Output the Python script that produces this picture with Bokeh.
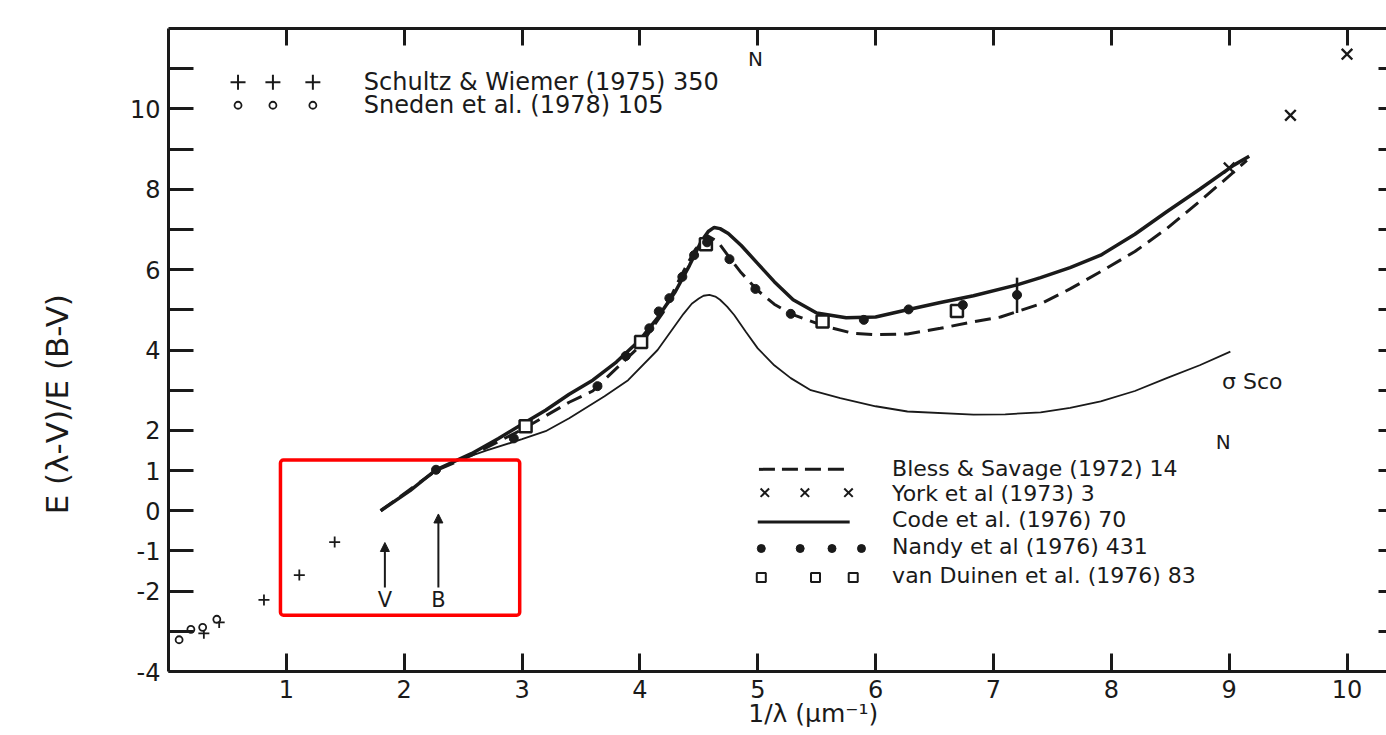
from bokeh.plotting import figure
from bokeh.models import (LinearAxis, FixedTicker, Label, Arrow, NormalHead,
                          BoxAnnotation, ColumnDataSource, Range1d)
from bokeh.embed import file_html
from bokeh.resources import INLINE
from bokeh.core.properties import value

# ---------------- data ----------------
# Code et al. (1976) mean curve (heavy solid)
code_x = [1.80, 2.05, 2.27, 2.57, 2.80, 3.00, 3.20, 3.40, 3.60, 3.80, 4.00, 4.15, 4.30, 4.42,
          4.52, 4.58, 4.63, 4.68, 4.75, 4.86, 5.00, 5.14, 5.30, 5.50, 5.75, 6.00, 6.27, 6.55,
          6.83, 7.20, 7.40, 7.65, 7.91, 8.20, 8.47, 8.75, 9.04, 9.17]
code_y = [0.00, 0.50, 1.02, 1.42, 1.80, 2.15, 2.50, 2.90, 3.25, 3.70, 4.25, 4.80, 5.45, 6.10,
          6.70, 6.95, 7.05, 7.02, 6.90, 6.60, 6.15, 5.70, 5.25, 4.92, 4.80, 4.82, 5.00, 5.18,
          5.35, 5.62, 5.80, 6.05, 6.36, 6.88, 7.44, 8.00, 8.60, 8.82]
# Bless & Savage (1972) (dashed)
bs_x = [1.80, 2.27, 2.57, 3.00, 3.40, 3.60, 4.00, 4.20, 4.35, 4.47, 4.57, 4.66, 4.76, 4.86,
        5.00, 5.14, 5.28, 5.56, 5.80, 6.00, 6.27, 6.55, 6.83, 7.06, 7.40, 7.65, 7.91, 8.20,
        8.47, 8.75, 9.04, 9.15]
bs_y = [0.00, 1.00, 1.38, 2.02, 2.70, 2.98, 4.10, 4.95, 5.85, 6.50, 6.85, 6.70, 6.30, 5.92,
        5.48, 5.14, 4.90, 4.60, 4.42, 4.38, 4.40, 4.54, 4.70, 4.82, 5.15, 5.52, 5.95, 6.45,
        7.02, 7.70, 8.43, 8.72]
# sigma Sco (thin solid)
sco_x = [2.40, 2.70, 3.00, 3.20, 3.40, 3.70, 3.90, 4.15, 4.37, 4.44, 4.50, 4.54, 4.59, 4.64,
         4.68, 4.74, 4.80, 4.90, 5.00, 5.14, 5.28, 5.45, 5.70, 6.00, 6.27, 6.83, 7.10, 7.40,
         7.65, 7.91, 8.20, 8.47, 8.75, 9.01]
sco_y = [1.20, 1.50, 1.78, 1.98, 2.30, 2.85, 3.25, 4.00, 4.90, 5.15, 5.28, 5.35, 5.37, 5.33,
         5.25, 5.08, 4.87, 4.45, 4.04, 3.62, 3.30, 3.00, 2.80, 2.60, 2.47, 2.39, 2.40, 2.45,
         2.56, 2.72, 2.98, 3.30, 3.62, 3.96]
# Nandy et al. (1976) dots
nandy_x = [2.27, 2.93, 3.64, 3.88, 4.08, 4.16, 4.25, 4.36, 4.46, 4.57, 4.76, 4.98, 5.28, 5.90,
           6.28, 6.74, 7.20]
nandy_y = [1.02, 1.80, 3.10, 3.85, 4.54, 4.96, 5.29, 5.82, 6.36, 6.68, 6.26, 5.52, 4.90, 4.75,
           5.01, 5.12, 5.37]
err_x = [7.20]
err_lo = [4.92]
err_hi = [5.80]
# van Duinen et al. (1976) squares
vd_x = [3.03, 4.01, 4.56, 5.55, 6.69]
vd_y = [2.10, 4.20, 6.63, 4.71, 4.97]
# York et al. (1973) crosses
york_x = [9.00, 9.52, 10.00]
york_y = [8.53, 9.84, 11.36]
# Schultz & Wiemer (1975) pluses
sw_x = [0.30, 0.43, 0.81, 1.11, 1.41]
sw_y = [-3.05, -2.78, -2.22, -1.60, -0.78]
# Sneden et al. (1978) circles
sn_x = [0.09, 0.19, 0.29, 0.41]
sn_y = [-3.21, -2.95, -2.90, -2.70]
# V and B band arrows
band_names = ["V", "B"]
band_x = [1.836, 2.29]
band_bottom = [-1.91, -1.91]
band_top = [-0.79, -0.08]
# highlight box (left, right, bottom, top)
highlight_box = [0.95, 2.98, -2.60, 1.26]

x_ticks = [1, 2, 3, 4, 5, 6, 7, 8, 9, 10]
y_ticks = list(range(-4, 12))
y_tick_labels = {10: "10", 8: "8", 6: "6", 4: "4", 2: "2", 1: "1", 0: "0",
                 -1: "-1", -2: "-2", -4: "-4"}

FONT = "DejaVu Sans"
INK = "#1a1a1a"
NB = "\u00a0"

p = figure(width=1386, height=735, x_range=Range1d(0, 10.335), y_range=Range1d(-4, 12),
           output_backend="svg", toolbar_location=None,
           min_border_left=168, min_border_right=0, min_border_top=28, min_border_bottom=64)
p.outline_line_color = None
p.grid.visible = False
p.background_fill_color = "white"
p.border_fill_color = "white"

# bottom axis
xa = p.xaxis[0]
xa.ticker = FixedTicker(ticks=x_ticks)
xa.major_tick_in = 18
xa.major_tick_out = 0
xa.minor_tick_line_color = None
xa.axis_line_width = 3
xa.major_tick_line_width = 3
xa.axis_line_color = INK
xa.major_tick_line_color = INK
xa.major_label_text_font = FONT
xa.major_label_text_font_size = "24px"
xa.major_label_text_color = INK
xa.major_label_standoff = 8
xa.axis_label = NB * 9 + "1/λ (μm⁻¹)"
xa.axis_label_text_font = FONT
xa.axis_label_text_font_size = "25px"
xa.axis_label_text_font_style = "normal"
xa.axis_label_text_color = INK
xa.axis_label_standoff = -2

# left axis
ya = p.yaxis[0]
ya.ticker = FixedTicker(ticks=y_ticks)
ya.major_label_overrides = {t: y_tick_labels.get(t, "") for t in y_ticks}
ya.major_tick_in = 25
ya.major_tick_out = 0
ya.minor_tick_line_color = None
ya.axis_line_width = 3
ya.major_tick_line_width = 3
ya.axis_line_color = INK
ya.major_tick_line_color = INK
ya.major_label_text_font = FONT
ya.major_label_text_font_size = "24px"
ya.major_label_text_color = INK
ya.major_label_standoff = 8
ya.axis_label = "E (λ-V)/E (B-V)" + NB * 11
ya.axis_label_text_font = FONT
ya.axis_label_text_font_size = "31px"
ya.axis_label_text_font_style = "normal"
ya.axis_label_text_color = INK
ya.axis_label_standoff = 52

# top axis (ticks only)
top = LinearAxis(ticker=FixedTicker(ticks=x_ticks), major_tick_in=17, major_tick_out=0,
                 minor_tick_line_color=None, axis_line_width=3, major_tick_line_width=3,
                 axis_line_color=INK, major_tick_line_color=INK,
                 major_label_text_font_size="0px", major_label_standoff=0,
                 major_label_overrides={t: "" for t in x_ticks})
p.add_layout(top, "above")
# right axis (ticks only, axis line outside picture)
right = LinearAxis(ticker=FixedTicker(ticks=y_ticks), major_tick_in=8, major_tick_out=0,
                   minor_tick_line_color=None, axis_line_color=None, major_tick_line_width=3,
                   major_tick_line_color=INK, major_label_text_font_size="0px",
                   major_label_standoff=0, major_label_overrides={t: "" for t in y_ticks})
p.add_layout(right, "right")

# curves
p.line(sco_x, sco_y, line_color=INK, line_width=1.8)
p.line(bs_x, bs_y, line_color=INK, line_width=3, line_dash="16 8")
p.line(code_x, code_y, line_color=INK, line_width=3.5)

# data points
p.segment(x0=err_x, y0=err_lo, x1=err_x, y1=err_hi, line_color=INK, line_width=2.5)
p.scatter(vd_x, vd_y, marker="square", size=12, fill_color="white", line_color=INK, line_width=2.5)
p.scatter(nandy_x, nandy_y, marker="circle", size=9, fill_color=INK, line_color=INK)
p.scatter(york_x, york_y, marker="x", size=15, line_color=INK, line_width=2.4)
p.scatter(sw_x, sw_y, marker="cross", size=11, line_color=INK, line_width=1.8)
p.scatter(sn_x, sn_y, marker="circle", size=7, fill_color="white", line_color=INK, line_width=1.8)

# V / B arrows
arr_src = ColumnDataSource(dict(x=band_x, y0=band_bottom, y1=band_top))
p.add_layout(Arrow(end=NormalHead(size=9, fill_color=INK, line_color=INK),
                   x_start="x", y_start="y0", x_end="x", y_end="y1",
                   line_color=INK, line_width=2, source=arr_src))
p.text(x=band_x, y=[b - 0.3 for b in band_bottom], text=band_names,
       text_font=value(FONT), text_font_size="21px", text_align="center",
       text_baseline="middle", text_color=INK)

# red highlight box
p.add_layout(BoxAnnotation(left=highlight_box[0], right=highlight_box[1],
                           bottom=highlight_box[2], top=highlight_box[3],
                           fill_alpha=0, line_color="#ff0000", line_alpha=1.0,
                           line_width=3.5, border_radius=3))

# ---------------- legends ----------------
def txt(x, y, s, size="24px", align="left"):
    p.add_layout(Label(x=x, y=y, text=s, text_font=FONT, text_font_size=size,
                       text_align=align, text_baseline="middle", text_color=INK))

# top-left legend
p.scatter([0.59, 0.886, 1.225], [10.66] * 3, marker="cross", size=15, line_color=INK, line_width=2)
p.scatter([0.59, 0.886, 1.225], [10.09] * 3, marker="circle", size=7, fill_color="white",
          line_color=INK, line_width=1.8)
txt(1.657, 10.66, "Schultz & Wiemer (1975) 350")
txt(1.657, 10.09, "Sneden et al. (1978) 105")
txt(4.98, 11.23, "N", size="20px", align="center")

# bottom-right legend
lx = 6.14
LS = "22px"
txt(8.95, 1.71, "N", size="20px", align="center")
p.line([5.01, 5.79], [1.03, 1.03], line_color=INK, line_width=3, line_dash="16 7")
txt(lx, 1.06, "Bless & Savage (1972) 14", size=LS)
p.scatter([5.06, 5.40, 5.77], [0.45] * 3, marker="x", size=12, line_color=INK, line_width=2)
txt(lx, 0.44, "York et al (1973) 3", size=LS)
p.line([5.00, 5.78], [-0.28, -0.28], line_color=INK, line_width=3)
txt(lx, -0.23, "Code et al. (1976) 70", size=LS)
p.scatter([5.03, 5.36, 5.63, 5.88], [-0.94] * 4, marker="circle", size=8, fill_color=INK,
          line_color=INK)
txt(lx, -0.89, "Nandy et al (1976) 431", size=LS)
p.scatter([5.03, 5.49, 5.81], [-1.66] * 3, marker="square", size=9, fill_color="white",
          line_color=INK, line_width=2)
txt(lx, -1.60, "van Duinen et al. (1976) 83", size=LS)

txt(8.94, 3.22, "σ Sco", size="22px")

open("out.html", "w").write(file_html(p, INLINE))
